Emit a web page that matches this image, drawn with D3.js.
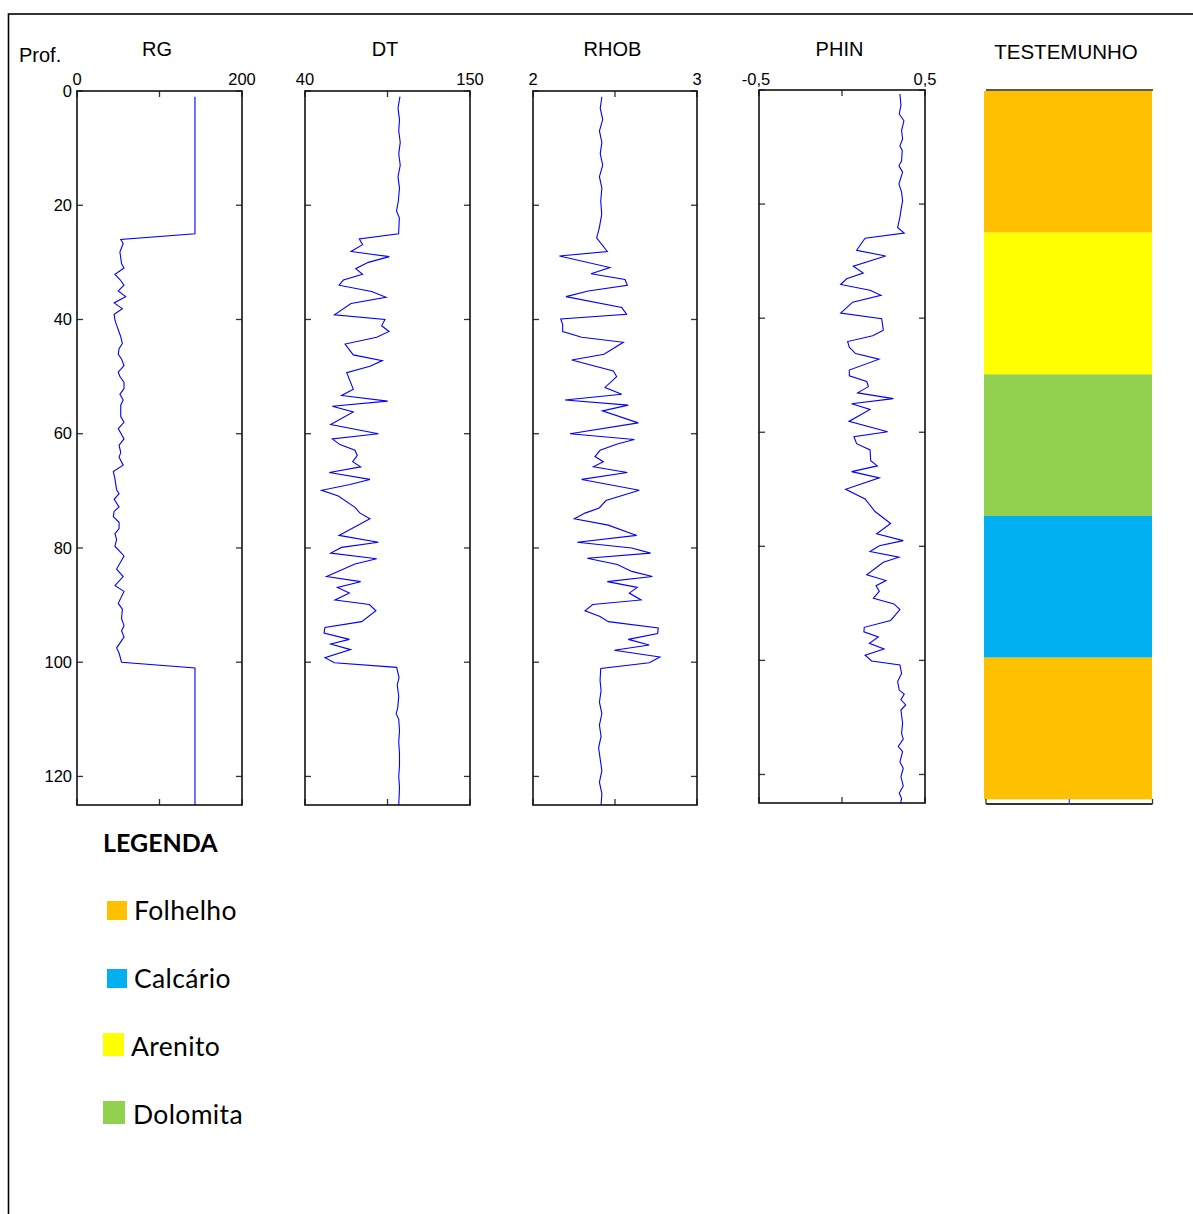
<!DOCTYPE html>
<html><head><meta charset="utf-8">
<script src="https://cdn.jsdelivr.net/npm/d3@7/dist/d3.min.js"></script>
<style>
html,body{margin:0;padding:0;background:#fff;}
svg{display:block;}
</style></head>
<body>
<svg id="chart" width="1193" height="1214"></svg>
<script>
// ---------------- DATA ----------------
const depthTicks = [0, 20, 40, 60, 80, 100, 120];
const depthLabels = ["0", "20", "40", "60", "80", "100", "120"];

const rgDepth = [1,25,26,26.7,28.2,30.2,31,32.1,33,34,35,36,37.1,38.1,39.1,40.1,41,42.2,43,44.2,45.1,46.1,46.9,48.1,49.2,50,51,52.1,53.1,54.1,55,57,58,59.1,60.9,62,63.3,64.1,65.5,66.6,67.9,69.8,70.5,71.5,72.8,73.6,74.5,75.5,76.6,77.5,78.5,79.7,81.4,83.7,85,86.6,87.6,89.7,90.7,92.4,93.6,94.5,95.6,97.5,98.4,100,101,125];
const rgValue = [143,143,53,56,52,54,57,46,52,57,50,59,45,55,45,46,48,51,53,55,51,50,54,57,50,52,57,57,52,56,53,53,57,50,57,51,53,51,56,44,46,48,51,45,51,45,44,51,51,46,48,46,57,48,56,46,57,50,55,54,57,54,57,48,51,54,143,143];

const dtDepth = [1,3,5,7,9,11,13,15,17,19.3,21,22.2,25,25.9,26.9,28.1,29,30,31.1,32.1,33.1,34,35.1,36.1,37.2,39.2,40,41.1,42.1,43.1,44.3,46.2,47.2,48.2,49.3,52.2,53.3,54.3,55.2,56.2,58.4,60,60.9,61.9,62.9,63.8,64.9,65.8,66.8,68,68.9,69.9,70.9,72.9,73.9,74.9,77.8,79,79.9,80.9,81.9,82.8,85,85.9,86.9,87.9,89.1,89.9,91,92.9,93.9,94.9,96,96.8,97.8,99.2,100.1,100.9,102.7,104,106,108,109,110,112,114,116,118,120,122,125];
const dtValue = [103.3,102,103,102.5,103.5,102.5,103.5,102,103,102.2,101,102.9,102.4,76.2,78.4,70.7,96.2,82.2,73.8,78.4,65.6,62.7,84.4,94,70.7,59.6,93.3,91.1,96,87.8,66.7,72.2,91.6,83.3,67.8,72.2,64.4,95.1,58.2,72.2,57.1,88.9,58.2,63.3,73.3,74.9,71.8,77.1,56.2,83.3,70,51.1,62.2,73.3,76.7,83.3,62.7,88.9,64.4,57.1,87.8,73.3,54.4,77.1,61.6,69.6,60,82.9,87.3,77.8,53.3,52.7,69.6,57.1,70.4,53.3,59.6,101.1,102.7,101.5,102.5,101.8,100.8,102.5,103,102.5,103,103,102.5,103,102.5];

const rhobDepth = [1,3,5,7,9,11,13,15,17,19.3,21.6,24,25.7,28.1,28.9,30.9,32,33,34,35,36,37.9,39.1,39.9,40.9,42.1,43.1,44,46.1,47.1,49,50,51.9,53.1,54.1,55,56,58.1,60,61,61.8,62.9,64,64.9,65.8,66.8,68,69.9,71.7,73,73.9,74.9,76,77.8,79,80,80.9,81.8,82.9,84.1,85,85.9,86.9,87.9,89.1,89.9,91,92,92.9,94,95,96,97,97.9,99.1,100.1,101.1,103.2,105,107,109,111,113,115,117,119,121,123,125];
const rhobValue = [2.42,2.41,2.425,2.405,2.42,2.41,2.425,2.405,2.42,2.413,2.419,2.404,2.388,2.453,2.161,2.469,2.354,2.561,2.575,2.337,2.201,2.541,2.571,2.169,2.181,2.181,2.297,2.551,2.433,2.236,2.49,2.51,2.439,2.541,2.195,2.581,2.423,2.642,2.226,2.618,2.514,2.409,2.378,2.429,2.368,2.575,2.297,2.648,2.445,2.404,2.317,2.252,2.459,2.632,2.27,2.602,2.717,2.331,2.514,2.602,2.728,2.453,2.636,2.587,2.659,2.364,2.317,2.409,2.459,2.764,2.76,2.581,2.709,2.496,2.774,2.709,2.413,2.409,2.415,2.405,2.42,2.405,2.415,2.4,2.41,2.42,2.405,2.42,2.415];

const phinDepth = [0.7,2.7,4.2,5.4,7.1,8.6,9.8,10.6,12.4,13.3,14.4,16.5,17.9,19.4,21.1,22.3,24.1,25.1,26,28.1,29.1,30.9,32.1,33.1,34.1,35.1,36,37.2,39.1,40.1,42.1,43.1,44.1,45.1,46.2,47.2,49.1,50.1,51.1,52,53.1,54.1,55,56,58.1,59.9,60.8,62,63.1,65,65.9,66.9,68,70,71.7,73.9,76,77.8,79,79.9,80.9,81.9,82.8,85,86,86.9,87.9,89.1,90.1,91.1,93,94.2,95,95.9,97,98,99.1,100.1,100.8,102.3,103.7,105.2,105.9,106.9,107.8,108.7,111,112.8,113.8,115.1,116,117.8,118.9,120.4,122,123.3,124.2,125];
const phinValue = [0.349,0.355,0.345,0.373,0.359,0.365,0.349,0.363,0.359,0.343,0.365,0.343,0.359,0.365,0.355,0.349,0.335,0.375,0.139,0.088,0.263,0.068,0.128,0.028,-0.008,0.169,0.235,0.064,-0.008,0.239,0.249,0.185,0.034,0.044,0.082,0.223,0.044,0.044,0.149,0.159,0.094,0.309,0.058,0.169,0.042,0.275,0.072,0.088,0.169,0.173,0.213,0.058,0.225,0.022,0.139,0.199,0.293,0.209,0.369,0.225,0.169,0.343,0.249,0.149,0.265,0.205,0.225,0.189,0.313,0.349,0.293,0.134,0.132,0.219,0.165,0.253,0.139,0.179,0.349,0.359,0.335,0.345,0.375,0.355,0.384,0.355,0.365,0.359,0.369,0.339,0.365,0.349,0.369,0.355,0.369,0.345,0.359,0.353];

const rgTicks = [0, 100, 200], rgTickLabels = ["0", "200"];
const dtTicks = [40, 95, 150], dtTickLabels = ["40", "150"];
const rhobTicks = [2, 2.5, 3], rhobTickLabels = ["2", "3"];
const phinTicks = [-0.5, 0, 0.5], phinTickLabels = ["-0,5", "0,5"];

const layerTop = [0, 25, 50, 75, 100];
const layerBottom = [25, 50, 75, 100, 125];
const layerType = ["Folhelho", "Arenito", "Dolomita", "Calcário", "Folhelho"];

const legendNames = ["Folhelho", "Calcário", "Arenito", "Dolomita"];
const lithoColor = {"Folhelho": "#FFC000", "Calcário": "#00B0F0", "Arenito": "#FFFF00", "Dolomita": "#92D050"};

// ---------------- DRAW ----------------
const svg = d3.select("#chart");
const FONT = "'Liberation Sans', Arial, sans-serif";
const LFONT = "Lato, 'Open Sans', sans-serif";

svg.append("rect").attr("width", 1193).attr("height", 1214).attr("fill", "#fff");
// outer border
svg.append("rect").attr("x", 8.5).attr("y", 14).attr("width", 1300).attr("height", 1300)
  .attr("fill", "none").attr("stroke", "#000").attr("stroke-width", 1.6);

svg.append("text").attr("x", 19).attr("y", 62).attr("font-family", FONT).attr("font-size", 20)
  .attr("fill", "#000").text("Prof.");

const panels = [
  {title: "RG", left: 77, right: 242, top: 91, bottom: 805, domain: [0, 200], ticks: rgTicks, labels: rgTickLabels, d: rgDepth, v: rgValue, yLabels: true},
  {title: "DT", left: 305, right: 470, top: 91, bottom: 805, domain: [40, 150], ticks: dtTicks, labels: dtTickLabels, d: dtDepth, v: dtValue},
  {title: "RHOB", left: 533, right: 697, top: 91, bottom: 805, domain: [2, 3], ticks: rhobTicks, labels: rhobTickLabels, d: rhobDepth, v: rhobValue},
  {title: "PHIN", left: 759, right: 925, top: 90, bottom: 803, domain: [-0.5, 0.5], ticks: phinTicks, labels: phinTickLabels, d: phinDepth, v: phinValue, labelShift: [-3, 0]}
];

const TL = 6;
panels.forEach(p => {
  const x = d3.scaleLinear().domain(p.domain).range([p.left, p.right]);
  const y = d3.scaleLinear().domain([0, 125]).range([p.top, p.bottom]);
  const g = svg.append("g");

  // title
  g.append("text").attr("x", (p.left + p.right) / 2 - 2.5).attr("y", 56)
    .attr("text-anchor", "middle").attr("font-family", FONT).attr("font-size", 20)
    .attr("fill", "#000").text(p.title);

  // curve
  const pts = p.d.map((dd, i) => [dd, p.v[i]]);
  const line = d3.line().x(q => x(q[1])).y(q => y(q[0]));
  g.append("path").datum(pts).attr("d", line).attr("fill", "none")
    .attr("stroke", "#0000FF").attr("stroke-width", 1.1);

  // ticks - y, both sides, inward
  depthTicks.forEach(t => {
    g.append("line").attr("x1", p.left).attr("x2", p.left + TL).attr("y1", y(t)).attr("y2", y(t))
      .attr("stroke", "#333").attr("stroke-width", 1.3);
    g.append("line").attr("x1", p.right).attr("x2", p.right - TL).attr("y1", y(t)).attr("y2", y(t))
      .attr("stroke", "#333").attr("stroke-width", 1.3);
  });
  // ticks - x, top and bottom, inward
  p.ticks.forEach(t => {
    g.append("line").attr("x1", x(t)).attr("x2", x(t)).attr("y1", p.top).attr("y2", p.top + TL)
      .attr("stroke", "#333").attr("stroke-width", 1.3);
    g.append("line").attr("x1", x(t)).attr("x2", x(t)).attr("y1", p.bottom).attr("y2", p.bottom - TL)
      .attr("stroke", "#333").attr("stroke-width", 1.3);
  });

  // frame
  g.append("rect").attr("x", p.left).attr("y", p.top).attr("width", p.right - p.left)
    .attr("height", p.bottom - p.top).attr("fill", "none").attr("stroke", "#111").attr("stroke-width", 1.6);

  // x tick labels at domain ends
  const shift = p.labelShift || [0, 0];
  [p.domain[0], p.domain[1]].forEach((val, i) => {
    g.append("text").attr("x", x(val) + shift[i]).attr("y", 85).attr("text-anchor", "middle")
      .attr("font-family", FONT).attr("font-size", 16.5).attr("fill", "#000").text(p.labels[i]);
  });

  // y labels
  if (p.yLabels) {
    depthTicks.forEach((t, i) => {
      g.append("text").attr("x", p.left - 5).attr("y", y(t)).attr("dy", "0.35em")
        .attr("text-anchor", "end").attr("font-family", FONT).attr("font-size", 16.5)
        .attr("fill", "#000").text(depthLabels[i]);
    });
  }
});

// TESTEMUNHO column
(function () {
  const left = 984, right = 1152;
  const y = d3.scaleLinear().domain([0, 126]).range([91, 805]);
  const g = svg.append("g");
  g.append("text").attr("x", 1066).attr("y", 59).attr("text-anchor", "middle")
    .attr("font-family", FONT).attr("font-size", 20.5).attr("fill", "#000").text("TESTEMUNHO");
  layerTop.forEach((t, i) => {
    g.append("rect").attr("x", left).attr("y", y(t)).attr("width", right - left)
      .attr("height", y(layerBottom[i]) - y(t)).attr("fill", lithoColor[layerType[i]]);
  });
  const fl = 986, fr = 1152.5, fb = 804;
  g.append("line").attr("x1", fl).attr("x2", fr + 0.5).attr("y1", 90).attr("y2", 90)
    .attr("stroke", "#222").attr("stroke-width", 1.5);
  g.append("line").attr("x1", fl).attr("x2", fr).attr("y1", fb).attr("y2", fb)
    .attr("stroke", "#333").attr("stroke-width", 1.8);
  [fl, fr].forEach(xx => g.append("line").attr("x1", xx).attr("x2", xx).attr("y1", fb).attr("y2", fb - 5)
    .attr("stroke", "#333").attr("stroke-width", 1.3));
  g.append("line").attr("x1", (fl + fr) / 2).attr("x2", (fl + fr) / 2).attr("y1", fb).attr("y2", fb - 5)
    .attr("stroke", "#3344ff").attr("stroke-width", 1.2);
})();

// LEGEND
svg.append("text").attr("x", 103).attr("y", 852).attr("font-family", LFONT).attr("font-weight", 700)
  .attr("font-size", 25).attr("fill", "#000").text("LEGENDA");

const legendBoxes = [
  {x: 107, y: 901, w: 20, h: 19, tx: 134, ty: 920},
  {x: 107, y: 969, w: 20, h: 19, tx: 134, ty: 988},
  {x: 103, y: 1033, w: 21, h: 23, tx: 131, ty: 1056},
  {x: 103, y: 1101, w: 22, h: 23, tx: 133, ty: 1124}
];
legendNames.forEach((n, i) => {
  const b = legendBoxes[i];
  svg.append("rect").attr("x", b.x).attr("y", b.y).attr("width", b.w).attr("height", b.h)
    .attr("fill", lithoColor[n]);
  svg.append("text").attr("x", b.tx).attr("y", b.ty).attr("font-family", LFONT).attr("font-size", 26.5)
    .attr("letter-spacing", 0.35).attr("fill", "#000").text(n);
});
</script>
</body></html>
